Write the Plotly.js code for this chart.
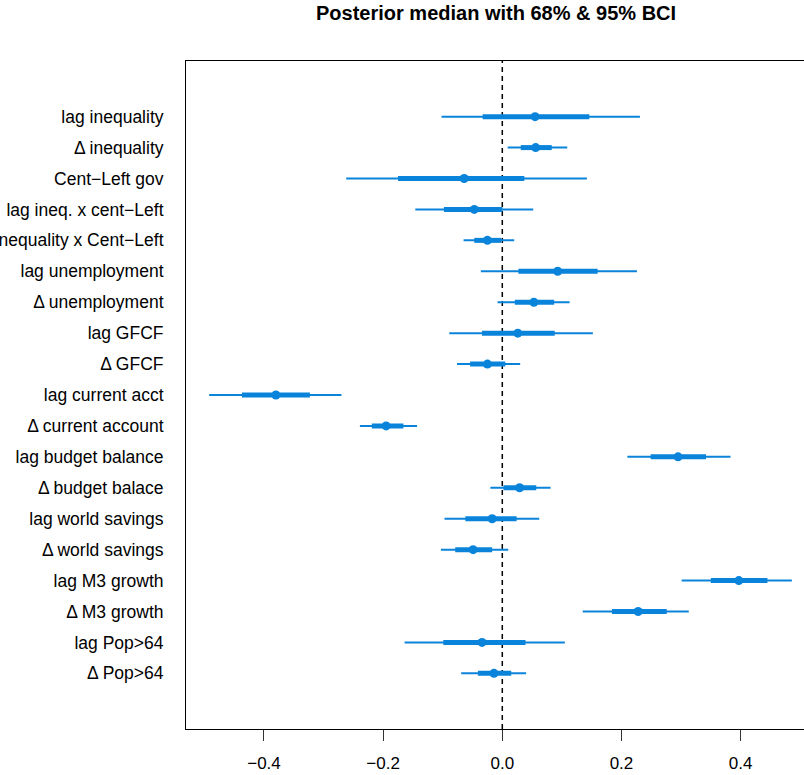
<!DOCTYPE html>
<html>
<head>
<meta charset="utf-8">
<script src="https://cdn.plot.ly/plotly-3.0.1.min.js"></script>
<style>html,body{margin:0;padding:0;background:#fff;}#chart{width:804px;height:775px;}</style>
</head>
<body>
<div id="chart"></div>
<script>
const labels = ["lag inequality","Δ inequality","Cent−Left gov","lag ineq. x cent−Left","Δ inequality x Cent−Left","lag unemployment","Δ unemployment","lag GFCF","Δ GFCF","lag current acct","Δ current account","lag budget balance","Δ budget balace","lag world savings","Δ world savings","lag M3 growth","Δ M3 growth","lag Pop>64","Δ Pop>64"];
const median = [0.055,0.056,-0.064,-0.047,-0.025,0.093,0.053,0.026,-0.025,-0.380,-0.195,0.295,0.029,-0.017,-0.049,0.397,0.228,-0.034,-0.014];
const lo95 = [-0.102,0.009,-0.262,-0.146,-0.065,-0.036,-0.008,-0.089,-0.076,-0.492,-0.239,0.210,-0.020,-0.097,-0.103,0.301,0.135,-0.164,-0.069];
const hi95 = [0.231,0.109,0.142,0.052,0.020,0.226,0.113,0.152,0.030,-0.270,-0.143,0.383,0.081,0.062,0.010,0.486,0.313,0.105,0.040];
const lo68 = [-0.033,0.031,-0.175,-0.098,-0.047,0.027,0.021,-0.034,-0.054,-0.437,-0.219,0.249,0.002,-0.062,-0.079,0.350,0.184,-0.099,-0.041];
const hi68 = [0.146,0.083,0.037,0.000,-0.002,0.160,0.087,0.088,0.005,-0.323,-0.166,0.342,0.057,0.024,-0.017,0.445,0.276,0.039,0.015];
const xTicks = [-0.4,-0.2,0,0.2,0.4];

const pos = labels.map((_, i) => i + 1);
const col = "#0a84da";
const font = "Liberation Sans, Arial, Helvetica, sans-serif";

function segs(lo, hi) {
  const x = [], y = [];
  lo.forEach((v, i) => { x.push(v, hi[i], null); y.push(pos[i], pos[i], null); });
  return {x, y};
}
const s95 = segs(lo95, hi95);
const s68 = segs(lo68, hi68);

const traces = [
  {type:"scatter", mode:"lines", x:s95.x, y:s95.y, line:{color:col, width:2}, hoverinfo:"skip", showlegend:false},
  {type:"scatter", mode:"lines", x:s68.x, y:s68.y, line:{color:col, width:5}, hoverinfo:"skip", showlegend:false},
  {type:"scatter", mode:"markers", x:median, y:pos, marker:{color:col, size:9}, showlegend:false}
];

const layout = {
  width:804, height:775,
  margin:{l:186, r:0, t:61, b:46, pad:0},
  paper_bgcolor:"#fff", plot_bgcolor:"#fff",
  showlegend:false,
  title:{text:"<b>Posterior median with 68% & 95% BCI</b>", font:{family:font, size:20, color:"#000"},
         xref:"container", yref:"container", x:0.617, xanchor:"center", y:0.983, yanchor:"middle"},
  xaxis:{range:[-0.5309, 0.5064], showgrid:false, zeroline:false, showline:true, linecolor:"#000", linewidth:1, mirror:true,
         ticks:"outside", ticklen:11, tickcolor:"#333", tickwidth:1, tickvals:xTicks, tickformat:".1f",
         ticklabelstandoff:8, tickfont:{family:font, size:17, color:"#000"}},
  yaxis:{range:[20.8, -0.8], showgrid:false, zeroline:false, showline:true, linecolor:"#000", linewidth:1, mirror:false,
         ticks:"", tickvals:pos, ticktext:labels, ticklabelstandoff:18, automargin:false,
         tickfont:{family:font, size:17.5, color:"#000"}},
  shapes:[{type:"line", xref:"x", yref:"paper", x0:0, x1:0, y0:0, y1:1, line:{color:"#000", width:1.5, dash:"5px,4px"}, layer:"below"}]
};

Plotly.newPlot("chart", traces, layout, {staticPlot:true, displayModeBar:false});
</script>
</body>
</html>
